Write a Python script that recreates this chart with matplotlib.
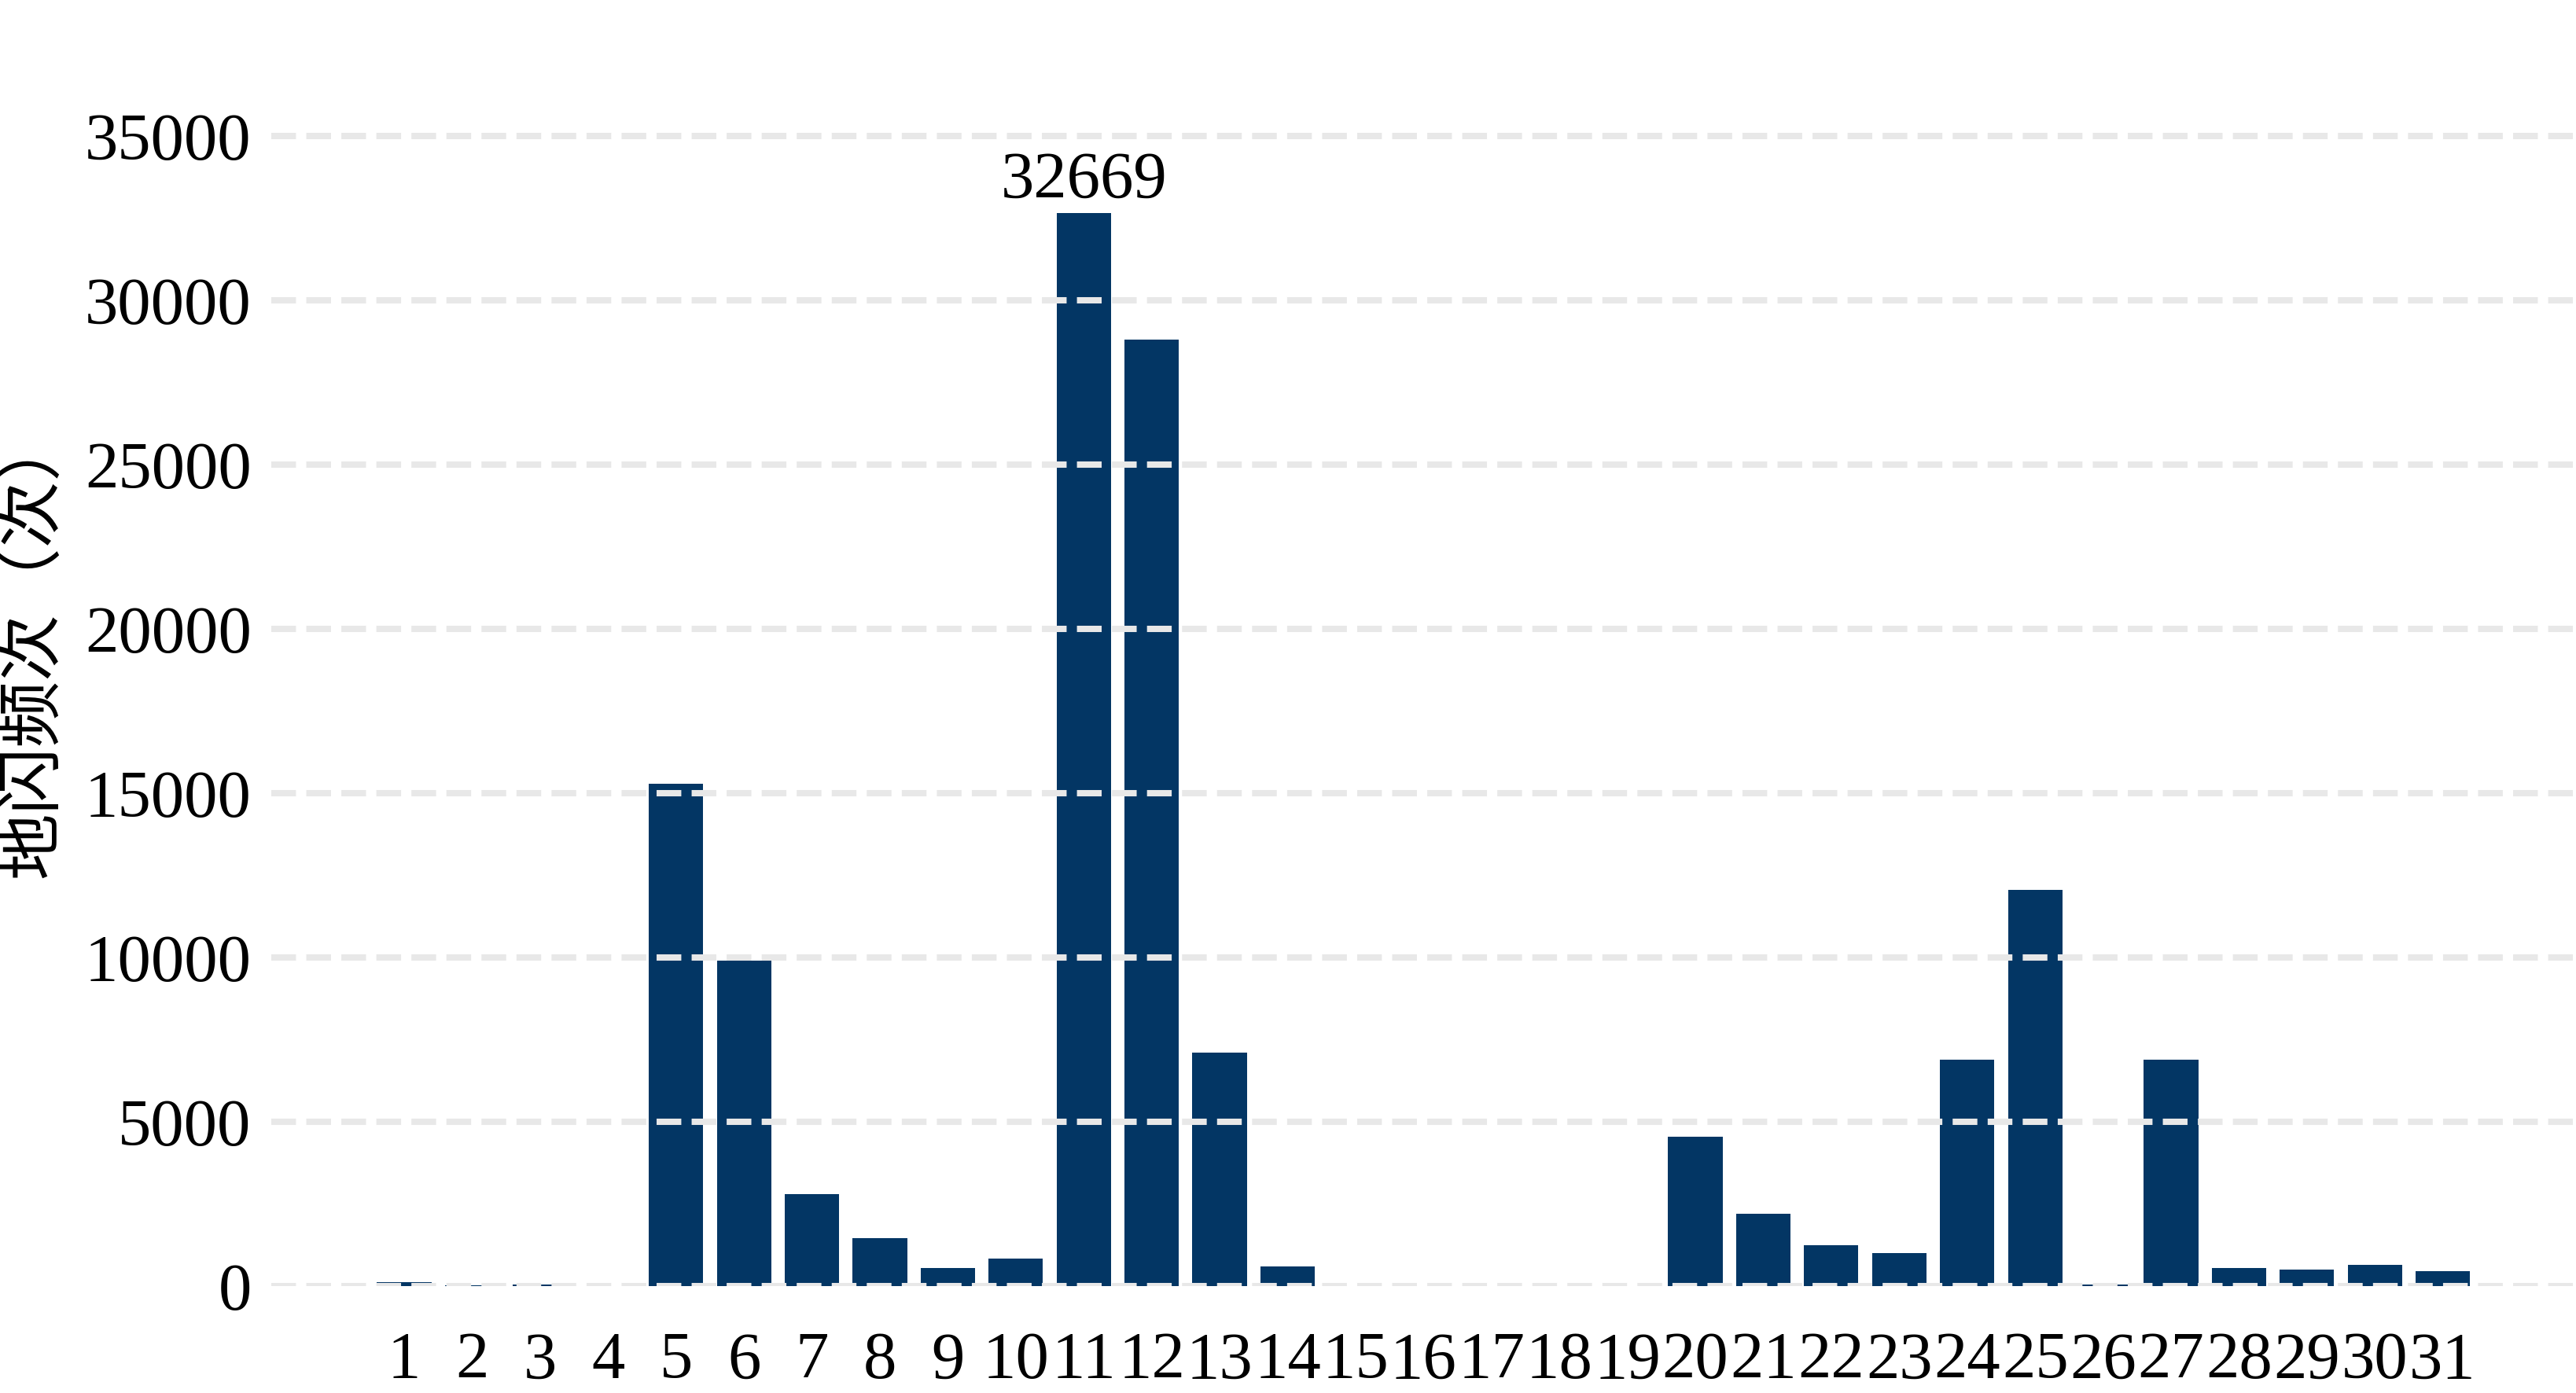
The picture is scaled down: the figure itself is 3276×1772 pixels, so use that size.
import matplotlib
matplotlib.use("Agg")
import matplotlib.pyplot as plt

days = list(range(1, 32))
flashes = [120, 30, 40, 0, 15300, 9900, 2800, 1450, 550, 850,
           32669, 28800, 7100, 600, 0, 0, 0, 0, 0, 4550,
           2200, 1250, 1000, 6900, 12050, 50, 6900, 550, 500, 650, 450]
yticks = [0, 5000, 10000, 15000, 20000, 25000, 30000, 35000]
ylabel = "地闪频次（次）"
peak_label = "32669"

plt.rcParams['font.family'] = ['Liberation Serif', 'DejaVu Serif']

fig = plt.figure(figsize=(16.38, 8.86), dpi=200)
ax = fig.add_axes([0.1052, 0.0767, 0.8948, 0.8963])

ax.bar(days, flashes, width=0.8, color='#033664', zorder=1)
ax.set_xlim(-0.96, 32.96)
ax.set_ylim(0, 38000)
ax.set_yticks(yticks)
ax.set_xticks(days)
ax.set_xticklabels([str(d) for d in days])
ax.yaxis.grid(True, color='#e8e8e8', linewidth=2.9, linestyle=(0, (3.9, 1.63)), zorder=3)
ax.set_axisbelow(False)
for s in ax.spines.values():
    s.set_visible(False)
ax.tick_params(axis='both', length=0, labelsize=30.5, colors='black')
ax.tick_params(axis='y', pad=9)
ax.tick_params(axis='x', pad=21)

imax = flashes.index(max(flashes))
ax.text(days[imax], flashes[imax] + 20, peak_label, ha='center', va='bottom', fontsize=30.5)

fig.text(0.0125, 0.537, ylabel, rotation=90, ha='center', va='center', fontsize=30.5,
         family=['Noto Sans CJK SC', 'DejaVu Sans'])

fig.savefig('out.png', dpi=200)
